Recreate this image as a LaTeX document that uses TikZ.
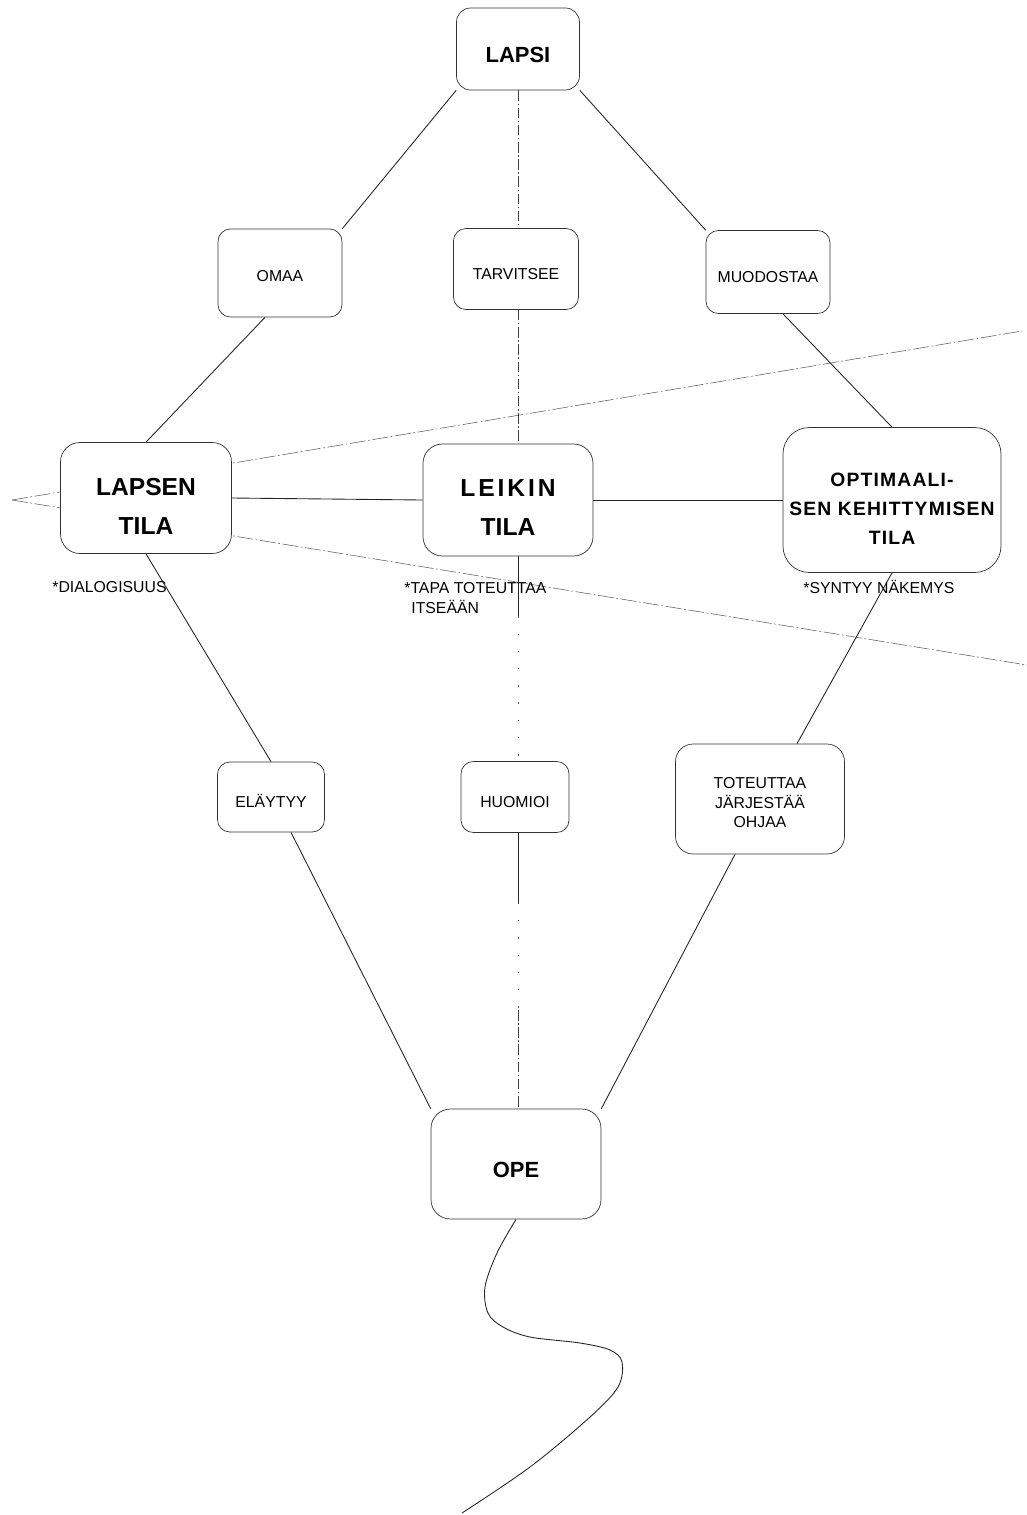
\documentclass[tikz,border=0pt]{standalone}
\usepackage{fontspec}
\setmainfont{Liberation Sans}
\usetikzlibrary{backgrounds,calc}
% invisible strut on a first line: pushes the text block down inside its box
\newcommand\capstrut[1]{\rule{0pt}{#1}}
\begin{document}
\begin{tikzpicture}[x=0.02cm,y=-0.02cm,
  box/.style={draw=black!80, line width=0.4pt, fill=white, align=center, inner sep=0pt},
  smallbox/.style={box, rounded corners=7pt, font=\fontsize{9}{11.3}\selectfont},
  bigbox/.style={box, rounded corners=11pt, font=\fontsize{14}{22}\selectfont\bfseries},
  note/.style={inner sep=0pt, font=\fontsize{9}{11.3}\selectfont, align=left},
  link/.style={line width=0.5pt, black!85},
  axisline/.style={line width=0.4pt, black!75, dash pattern=on 6pt off 1.5pt on 0.8pt off 1.5pt},
  sparse/.style={line width=0.4pt, black!70, dash pattern=on 0.8pt off 9pt},
  ray/.style={line width=0.3pt, black!65, dash pattern=on 9pt off 1.5pt on 1pt off 1.5pt},
]
\useasboundingbox (0,0) rectangle (1027,1515);

% top node and its three verbs
\node[box, rounded corners=8pt, minimum width=2.46cm, minimum height=1.64cm,
      font=\fontsize{12.5}{15}\selectfont\bfseries] (lapsi) at (518,49) {\capstrut{15.8pt}LAPSI};
\node[smallbox, minimum width=2.48cm, minimum height=1.76cm] (omaa) at (280,273) {\capstrut{10pt}OMAA};
\node[smallbox, minimum width=2.5cm, minimum height=1.62cm] (tarvitsee) at (516,269) {\capstrut{12pt}TARVITSEE};
\node[smallbox, minimum width=2.48cm, minimum height=1.66cm] (muodostaa) at (768,272) {\capstrut{12pt}MUODOSTAA};

% the three spaces
\node[bigbox, minimum width=3.42cm, minimum height=2.22cm] (lapsen) at (146,498)
     {\capstrut{19.6pt}LAPSEN\\TILA};
\node[bigbox, minimum width=3.4cm, minimum height=2.24cm] (leikin) at (508,500)
     {\capstrut{18pt}{\addfontfeature{LetterSpace=12}LEIKIN}\\TILA};
\node[bigbox, rounded corners=15pt, minimum width=4.36cm, minimum height=2.9cm,
      font=\fontsize{11}{16.5}\selectfont\bfseries\addfontfeature{LetterSpace=6}] (optimaali) at (892,500)
     {\capstrut{17.5pt}OPTIMAALI-\\SEN KEHITTYMISEN\\TILA};

% notes under the spaces
\node[note, anchor=base west] (dialog) at (52,592) {*DIALOGISUUS};
\node[note, anchor=north west] (tapa) at (404,582) {*TAPA TOTEUTTAA\\\hspace{4pt}ITSEÄÄN};
\node[note, anchor=base west] (syntyy) at (803,593) {*SYNTYY NÄKEMYS};

% lower verbs and the teacher
\node[smallbox, minimum width=2.14cm, minimum height=1.4cm] (elaytyy) at (271,797) {\capstrut{12pt}ELÄYTYY};
\node[smallbox, minimum width=2.16cm, minimum height=1.42cm] (huomioi) at (515,797) {\capstrut{12.5pt}HUOMIOI};
\node[smallbox, rounded corners=10pt, minimum width=3.38cm, minimum height=2.2cm] (toteuttaa) at (760,799)
     {\capstrut{10.4pt}TOTEUTTAA\\JÄRJESTÄÄ\\OHJAA};
\node[bigbox, minimum width=3.4cm, minimum height=2.2cm,
      font=\fontsize{12.5}{15}\selectfont\bfseries] (ope) at (516,1164) {\capstrut{15.2pt}OPE};

\begin{scope}[on background layer]
  \fill[white] (0,0) rectangle (1027,1515);

  % two rays fanning out from the left point
  \coordinate (apex) at (12,500);
  \coordinate (rayhi) at (1022,331);
  \coordinate (raylo) at (1027,665);
  \draw[ray] (apex) -- (rayhi);
  \draw[ray] (apex) -- (raylo);

  % diagonal links
  \draw[link] (lapsi.south west) -- (omaa.north east);
  \draw[link] (lapsi.south east) -- (muodostaa.north west);
  \draw[link] ($(omaa.south)+(-15,0)$) -- (lapsen.north);
  \draw[link] ($(muodostaa.south)+(15,0)$) -- (optimaali.north);
  \draw[link] (lapsen.south) -- (elaytyy.north);
  \draw[link] (optimaali.south) -- ($(toteuttaa.north)+(37,0)$);
  \draw[link] ($(elaytyy.south)+(20,0)$) -- (ope.north west);
  \draw[link] ($(toteuttaa.south)+(-25,0)$) -- (ope.north east);

  % horizontal links
  \draw[link] (lapsen.east) -- (leikin.west);
  \draw[link] (leikin.east) -- (optimaali.west);

  % central axis
  \draw[axisline] (lapsi.south) -- (lapsi.south |- tarvitsee.north);
  \draw[axisline] (lapsi.south |- tarvitsee.south) -- (lapsi.south |- leikin.north);
  \coordinate (c1) at ($(lapsi.south |- leikin.south)+(0,60)$);
  \draw[link] (lapsi.south |- leikin.south) -- (c1);
  \draw[sparse] (c1) -- (lapsi.south |- huomioi.north);
  \coordinate (c2) at ($(lapsi.south |- huomioi.south)+(0,70)$);
  \coordinate (c3) at (lapsi.south |- 0,1010);
  \draw[link] (lapsi.south |- huomioi.south) -- (c2);
  \draw[sparse] (c2) -- (c3);
  \draw[axisline] (c3) -- (lapsi.south |- ope.north);

  % winding path below the teacher
  \coordinate (tailend) at (462,1513);
  \draw[link] plot[smooth, tension=0.55] coordinates {(ope.south) (497,1253) (485,1287) (488,1313)
      (503,1327) (530,1337) (580,1343) (610,1350) (622,1362) (618,1387) (590,1417) (530,1467) (tailend)};
\end{scope}
\end{tikzpicture}
\end{document}
